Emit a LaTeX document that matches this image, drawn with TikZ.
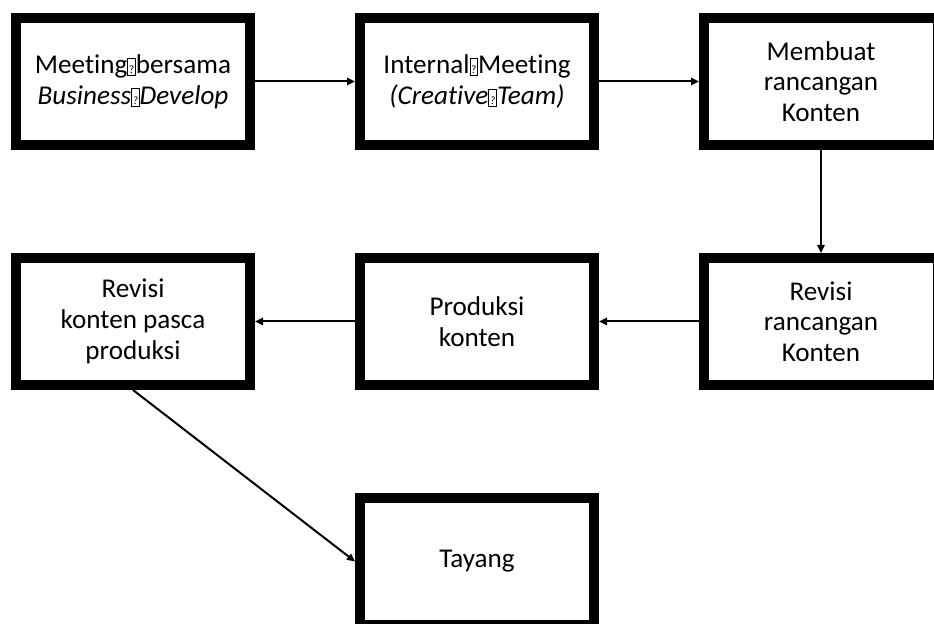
\documentclass[tikz,border=0pt]{standalone}
\usepackage{fontspec}
\setmainfont{Carlito}[Ligatures=CommonOff]
\usetikzlibrary{arrows.meta, positioning}

% box drawn where the source font had no glyph
\newcommand{\tofu}{{\setlength{\fboxsep}{0.7pt}\setlength{\fboxrule}{0.5pt}\fbox{\rule[-0.5pt]{0pt}{10.5pt}\fontsize{8}{8}\selectfont ?}}}

\begin{document}
\begin{tikzpicture}[
    node distance=2.575cm and 2.5cm,
    stepbox/.style={draw, line width=0.25cm, minimum width=5.85cm, minimum height=3.175cm,
                    outer sep=0.125cm, inner sep=0, align=center,
                    font=\fontsize{19.3}{21.8}\selectfont},
    link/.style={-{Triangle[length=0.2cm, width=0.18cm]}, line width=0.05cm},
]
\useasboundingbox (0,0) rectangle (23.35,-15.6);
% first row
\node[stepbox] (meet) at (3.325,-2.0375) {Meeting\tofu bersama\\\textit{Business\tofu Develop}};
\node[stepbox, right=of meet] (internal) {Internal\tofu Meeting\\\textit{(Creative\tofu Team)}};
\node[stepbox, right=of internal] (rancang) {Membuat\\rancangan\\Konten};
% second row
\node[stepbox, below=of rancang] (revrancang) {Revisi\\rancangan\\Konten};
\node[stepbox, left=of revrancang] (produksi) {Produksi\\konten};
\node[stepbox, left=of produksi] (revkonten) {Revisi\\konten pasca\\produksi};
% last step
\node[stepbox, below=of produksi] (tayang) {Tayang};
% connectors
\draw[link] (meet) -- (internal);
\draw[link] (internal) -- (rancang);
\draw[link] (rancang) -- (revrancang);
\draw[link] (revrancang) -- (produksi);
\draw[link] (produksi) -- (revkonten);
\draw[link] (revkonten.south) -- (tayang.west);
\end{tikzpicture}
\end{document}
